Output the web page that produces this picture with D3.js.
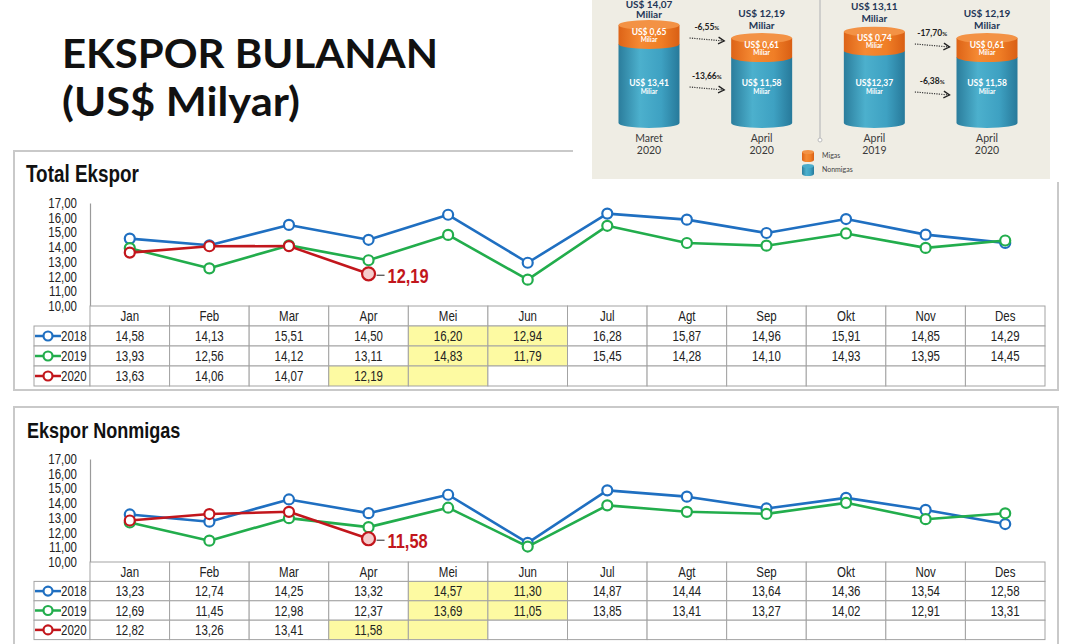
<!DOCTYPE html>
<html>
<head>
<meta charset="utf-8">
<script src="https://cdn.jsdelivr.net/npm/d3@7"></script>
<style>
body{margin:0;background:#fff}
svg{display:block}
</style>
</head>
<body>
<svg id="chart"></svg>
<script>
// data
var months = ["Jan","Feb","Mar","Apr","Mei","Jun","Jul","Agt","Sep","Okt","Nov","Des"];
var years = ["2018","2019","2020"];
var total2018 = [14.58,14.13,15.51,14.50,16.20,12.94,16.28,15.87,14.96,15.91,14.85,14.29];
var total2019 = [13.93,12.56,14.12,13.11,14.83,11.79,15.45,14.28,14.10,14.93,13.95,14.45];
var total2020 = [13.63,14.06,14.07,12.19];
var nonmigas2018 = [13.23,12.74,14.25,13.32,14.57,11.30,14.87,14.44,13.64,14.36,13.54,12.58];
var nonmigas2019 = [12.69,11.45,12.98,12.37,13.69,11.05,13.85,13.41,13.27,14.02,12.91,13.31];
var nonmigas2020 = [12.82,13.26,13.41,11.58];
var yTicks = [10,11,12,13,14,15,16,17];
var highlightCells = [["2018","Mei"],["2018","Jun"],["2019","Mei"],["2019","Jun"],["2020","Apr"],["2020","Mei"]];

// infographic data
var cylPeriod = [["Maret","2020"],["April","2020"],["April","2019"],["April","2020"]];
var cylTotal = [14.07,12.19,13.11,12.19];
var cylMigas = [0.65,0.61,0.74,0.61];
var cylNonmigas = [13.41,11.58,12.37,11.58];
var changeMigas = [-6.55,-17.70];
var changeNonmigas = [-13.66,-6.38];

var W = 1086, H = 644;
var svg = d3.select("#chart").attr("width", W).attr("height", H);
var loc = d3.formatLocale({decimal: ",", thousands: ".", grouping: [3], currency: ["", ""], minus: "-"});
var fmt = loc.format(".2f");
// no narrow font installed: Liberation Sans, squeezed at the end
var narrow = "'Liberation Sans',Arial,sans-serif";
var colors = {"2018": "#1f6fc1", "2019": "#22ad4c", "2020": "#c2161c"};
var gridColor = "#a3a3a3";

// big title
svg.append("text").attr("x", 62).attr("y", 68)
  .attr("font-family", "Lato, sans-serif").attr("font-weight", 700)
  .attr("font-size", 40).attr("textLength", 376).attr("lengthAdjust", "spacingAndGlyphs")
  .attr("fill", "#111").text("EKSPOR BULANAN");
svg.append("text").attr("x", 62).attr("y", 116)
  .attr("font-family", "Lato, sans-serif").attr("font-weight", 700)
  .attr("font-size", 40).attr("textLength", 238).attr("lengthAdjust", "spacingAndGlyphs")
  .attr("fill", "#111").text("(US$ Milyar)");

// panel frames
svg.append("path").attr("d", "M573,151H14V390H1058V182")
  .attr("fill", "none").attr("stroke", "#c9c9c9").attr("stroke-width", 2);
svg.append("path").attr("d", "M14,644V407H1058V644")
  .attr("fill", "none").attr("stroke", "#c9c9c9").attr("stroke-width", 2);

var x = d3.scaleBand().domain(months).range([90, 1045]);
var cx = function(i) { return x(months[i]) + x.bandwidth() / 2; };

var drawPanel = function(opt)
{
  var g = svg.append("g");
  var y = d3.scaleLinear().domain([10, 17]).range([opt.yBottom, opt.yTop]);

  g.append("text").attr("class", "narrow").attr("x", opt.titleX).attr("y", opt.titleY)
    .attr("font-family", narrow).attr("font-weight", 700)
    .attr("font-size", opt.titleSize).attr("fill", "#111").text(opt.title);

  var axis = g.append("g").attr("transform", "translate(90,0)")
    .call(d3.axisLeft(y).tickValues(yTicks).tickSize(0).tickPadding(13).tickFormat(fmt));
  axis.select(".domain").attr("stroke", "#9a9a9a").attr("stroke-width", 1.2);
  axis.selectAll("text").attr("class", "narrow").attr("font-family", narrow)
    .attr("font-size", 14).attr("fill", "#222");

  // table
  var rowH = opt.rowH;
  var hl = function(yr, m) {
    return highlightCells.some(function(c) { return c[0] == yr && c[1] == m; });
  };
  g.selectAll("rect.head").data(months).enter().append("rect")
    .attr("x", function(d) { return x(d); })
    .attr("y", opt.yBottom).attr("width", x.bandwidth()).attr("height", rowH)
    .attr("fill", "#fff").attr("stroke", gridColor);
  g.selectAll("text.head").data(months).enter().append("text")
    .attr("class", "narrow")
    .attr("x", function(d) { return x(d) + x.bandwidth() / 2; })
    .attr("y", opt.yBottom + rowH / 2 + 5)
    .attr("text-anchor", "middle").attr("font-family", narrow).attr("font-size", 14)
    .attr("fill", "#222").text(function(d) { return d; });

  years.forEach(function(yr, k) {
    var vals = opt.series[k];
    var ry = opt.yBottom + rowH * (k + 1);
    g.append("rect").attr("x", 34).attr("y", ry).attr("width", 56).attr("height", rowH)
      .attr("fill", "#fff").attr("stroke", gridColor);
    g.append("line").attr("x1", 35).attr("x2", 61).attr("y1", ry + rowH / 2).attr("y2", ry + rowH / 2)
      .attr("stroke", colors[yr]).attr("stroke-width", 2.5);
    g.append("circle").attr("cx", 48).attr("cy", ry + rowH / 2).attr("r", 4.5)
      .attr("fill", "#fff").attr("stroke", colors[yr]).attr("stroke-width", 2.2);
    g.append("text").attr("class", "narrow").attr("x", 61).attr("y", ry + rowH / 2 + 5)
      .attr("font-family", narrow).attr("font-size", 14).attr("fill", "#222").text(yr);

    g.selectAll("rect.r" + yr).data(months).enter().append("rect")
      .attr("x", function(d) { return x(d); }).attr("y", ry)
      .attr("width", x.bandwidth()).attr("height", rowH)
      .attr("fill", function(d) { return hl(yr, d) ? "#fdfaa2" : "#fff"; })
      .attr("stroke", gridColor);
    g.selectAll("text.r" + yr).data(vals).enter().append("text")
      .attr("class", "narrow")
      .attr("x", function(d, i) { return cx(i); })
      .attr("y", ry + rowH / 2 + 5)
      .attr("text-anchor", "middle").attr("font-family", narrow).attr("font-size", 14)
      .attr("fill", "#222").text(function(d) { return fmt(d); });
  });

  // lines
  var line = d3.line().x(function(d, i) { return cx(i); }).y(function(d) { return y(d); });
  years.forEach(function(yr, k) {
    var vals = opt.series[k];
    g.append("path").datum(vals).attr("d", line)
      .attr("fill", "none").attr("stroke", colors[yr]).attr("stroke-width", 2.6)
      .attr("stroke-linejoin", "round");
    g.selectAll("circle.p" + yr).data(vals).enter().append("circle")
      .attr("cx", function(d, i) { return cx(i); })
      .attr("cy", function(d) { return y(d); })
      .attr("r", function(d, i) { return (yr == "2020" && i == vals.length - 1) ? 6.5 : 5; })
      .attr("fill", function(d, i) { return (yr == "2020" && i == vals.length - 1) ? "#f5cccc" : "#fff"; })
      .attr("stroke", colors[yr]).attr("stroke-width", 2.2);
  });

  // last 2020 value label
  var last = opt.series[2];
  var li = last.length - 1;
  var lx = cx(li), ly = y(last[li]);
  g.append("line").attr("x1", lx + 8).attr("x2", lx + 16).attr("y1", ly + 1.5).attr("y2", ly + 1.5)
    .attr("stroke", "#555").attr("stroke-width", 1.3);
  g.append("text").attr("class", "narrow").attr("x", lx + 19).attr("y", ly + 9)
    .attr("font-family", narrow).attr("font-weight", 700).attr("font-size", 20)
    .attr("fill", colors["2020"]).text(fmt(last[li]));
};

drawPanel({title: "Total Ekspor", titleX: 26, titleY: 182, titleSize: 23,
  yTop: 203, yBottom: 306, rowH: 20, series: [total2018, total2019, total2020]});
drawPanel({title: "Ekspor Nonmigas", titleX: 27, titleY: 438, titleSize: 22,
  yTop: 459, yBottom: 562, rowH: 19.4, series: [nonmigas2018, nonmigas2019, nonmigas2020]});

// infographic (top right)
var defs = svg.append("defs");
var grad = function(id, stops) {
  var lg = defs.append("linearGradient").attr("id", id).attr("x1", "0%").attr("x2", "100%");
  stops.forEach(function(s) { lg.append("stop").attr("offset", s[0]).attr("stop-color", s[1]); });
};
grad("gBlue", [["0%", "#2b7d9c"], ["35%", "#4cb0cd"], ["70%", "#3ea1c2"], ["100%", "#27799a"]]);
grad("gOrange", [["0%", "#dd6317"], ["35%", "#f58a33"], ["70%", "#f07e26"], ["100%", "#d95f14"]]);
defs.append("marker").attr("id", "arrow").attr("viewBox", "0 0 10 10")
  .attr("refX", 8).attr("refY", 5).attr("markerWidth", 7).attr("markerHeight", 7)
  .attr("orient", "auto")
  .append("path").attr("d", "M1,1L8,5L1,9").attr("fill", "none")
  .attr("stroke", "#222").attr("stroke-width", 1.6);

var info = svg.append("g");
info.append("rect").attr("x", 592).attr("y", 0).attr("width", 458).attr("height", 179).attr("fill", "#efede4");

var ix = d3.scaleLinear().domain([0, 3]).range([649, 987]);
var ih = d3.scaleLinear().domain([0, d3.max(cylTotal)]).range([0, 98]);
var base = 123, rx = 30.5, ery = 5, band = 19;
var infoFont = "Lato, 'Open Sans', sans-serif";

var cylinder = function(g, c, top, bot, bandH, rX, eRy) {
  g.append("path")
    .attr("d", "M" + (c - rX) + "," + (top + bandH) + "L" + (c - rX) + "," + bot +
      "A" + rX + "," + eRy + " 0 0 0 " + (c + rX) + "," + bot + "L" + (c + rX) + "," + (top + bandH) + "Z")
    .attr("fill", "url(#gBlue)");
  g.append("path")
    .attr("d", "M" + (c - rX) + "," + top + "L" + (c - rX) + "," + (top + bandH) +
      "A" + rX + "," + eRy + " 0 0 0 " + (c + rX) + "," + (top + bandH) + "L" + (c + rX) + "," + top + "Z")
    .attr("fill", "url(#gOrange)");
  g.append("ellipse").attr("cx", c).attr("cy", top).attr("rx", rX).attr("ry", eRy)
    .attr("fill", "#f39245");
};

cylTotal.forEach(function(t, i) {
  var c = ix(i);
  var top = base - ih(t);
  info.append("text").attr("x", c).attr("y", Math.max(top - 21.5, 7.5)).attr("text-anchor", "middle")
    .attr("font-family", infoFont).attr("font-weight", 700).attr("font-size", 10)
    .attr("fill", "#243656").text("US$ " + fmt(t));
  info.append("text").attr("x", c).attr("y", Math.max(top - 9.5, 17.5)).attr("text-anchor", "middle")
    .attr("font-family", infoFont).attr("font-weight", 700).attr("font-size", 10)
    .attr("fill", "#243656").text("Miliar");
  cylinder(info, c, top, base, band, rx, ery);
  info.append("text").attr("x", c).attr("y", top + 9.5).attr("text-anchor", "middle")
    .attr("font-family", infoFont).attr("font-weight", 700).attr("font-size", 8.5)
    .attr("fill", "#fff").text("US$ " + fmt(cylMigas[i]));
  info.append("text").attr("x", c).attr("y", top + 16.5).attr("text-anchor", "middle")
    .attr("font-family", infoFont).attr("font-weight", 700).attr("font-size", 6.5)
    .attr("fill", "#fff").text("Miliar");
  info.append("text").attr("x", c).attr("y", 86).attr("text-anchor", "middle")
    .attr("font-family", infoFont).attr("font-weight", 700).attr("font-size", 8.5)
    .attr("fill", "#fff").text((i == 2 ? "US$" : "US$ ") + fmt(cylNonmigas[i]));
  info.append("text").attr("x", c).attr("y", 94).attr("text-anchor", "middle")
    .attr("font-family", infoFont).attr("font-weight", 700).attr("font-size", 6.5)
    .attr("fill", "#fff").text("Miliar");
  cylPeriod[i].forEach(function(s, j) {
    info.append("text").attr("x", c).attr("y", 142 + j * 12).attr("text-anchor", "middle")
      .attr("font-family", infoFont).attr("font-size", 10.5).attr("fill", "#3a3a3a").text(s);
  });
});

// change arrows
var migasY = [40, 46], nonY = [89, 94];
changeMigas.forEach(function(v, p) {
  var x1 = ix(2 * p) + rx + 10, x2 = ix(2 * p + 1) - rx - 7;
  [[v, migasY[p]], [changeNonmigas[p], nonY[p]]].forEach(function(a) {
    info.append("line").attr("x1", x1).attr("x2", x2).attr("y1", a[1] - 2).attr("y2", a[1] + 1)
      .attr("stroke", "#333").attr("stroke-width", 1.2).attr("stroke-dasharray", "1.2,1.2")
      .attr("marker-end", "url(#arrow)");
    var t = info.append("text").attr("x", (x1 + x2) / 2).attr("y", a[1] - 10).attr("text-anchor", "middle")
      .attr("font-family", infoFont).attr("font-weight", 700).attr("font-size", 8.5).attr("fill", "#222");
    t.append("tspan").text(fmt(a[0]));
    t.append("tspan").attr("font-size", 6).text("%");
  });
});

// separator and legend
info.append("line").attr("x1", 820).attr("x2", 820).attr("y1", 0).attr("y2", 138)
  .attr("stroke", "#c4c4c4").attr("stroke-width", 1.5);
info.append("circle").attr("cx", 820).attr("cy", 140).attr("r", 2)
  .attr("fill", "#fff").attr("stroke", "#bbb");
var legendItems = [["Migas", 150], ["Nonmigas", 164]];
legendItems.forEach(function(d, k) {
  var lg = info.append("g");
  if (k == 0) {
    lg.append("path").attr("d", "M802,152L802,160A6,2 0 0 0 814,160L814,152Z").attr("fill", "url(#gOrange)");
    lg.append("ellipse").attr("cx", 808).attr("cy", 152).attr("rx", 6).attr("ry", 2).attr("fill", "#f39245");
  } else {
    lg.append("path").attr("d", "M802,166L802,174A6,2 0 0 0 814,174L814,166Z").attr("fill", "url(#gBlue)");
    lg.append("ellipse").attr("cx", 808).attr("cy", 166).attr("rx", 6).attr("ry", 2).attr("fill", "#4aaccb");
  }
  lg.append("text").attr("x", 822).attr("y", d[1] + 8)
    .attr("font-family", infoFont).attr("font-size", 7).attr("fill", "#444").text(d[0]);
});

// squeeze the arial-like text to an arial-narrow width
svg.selectAll("text.narrow").each(function() {
  var w = this.getComputedTextLength();
  d3.select(this).attr("textLength", w * 0.82).attr("lengthAdjust", "spacingAndGlyphs");
});
</script>
</body>
</html>
